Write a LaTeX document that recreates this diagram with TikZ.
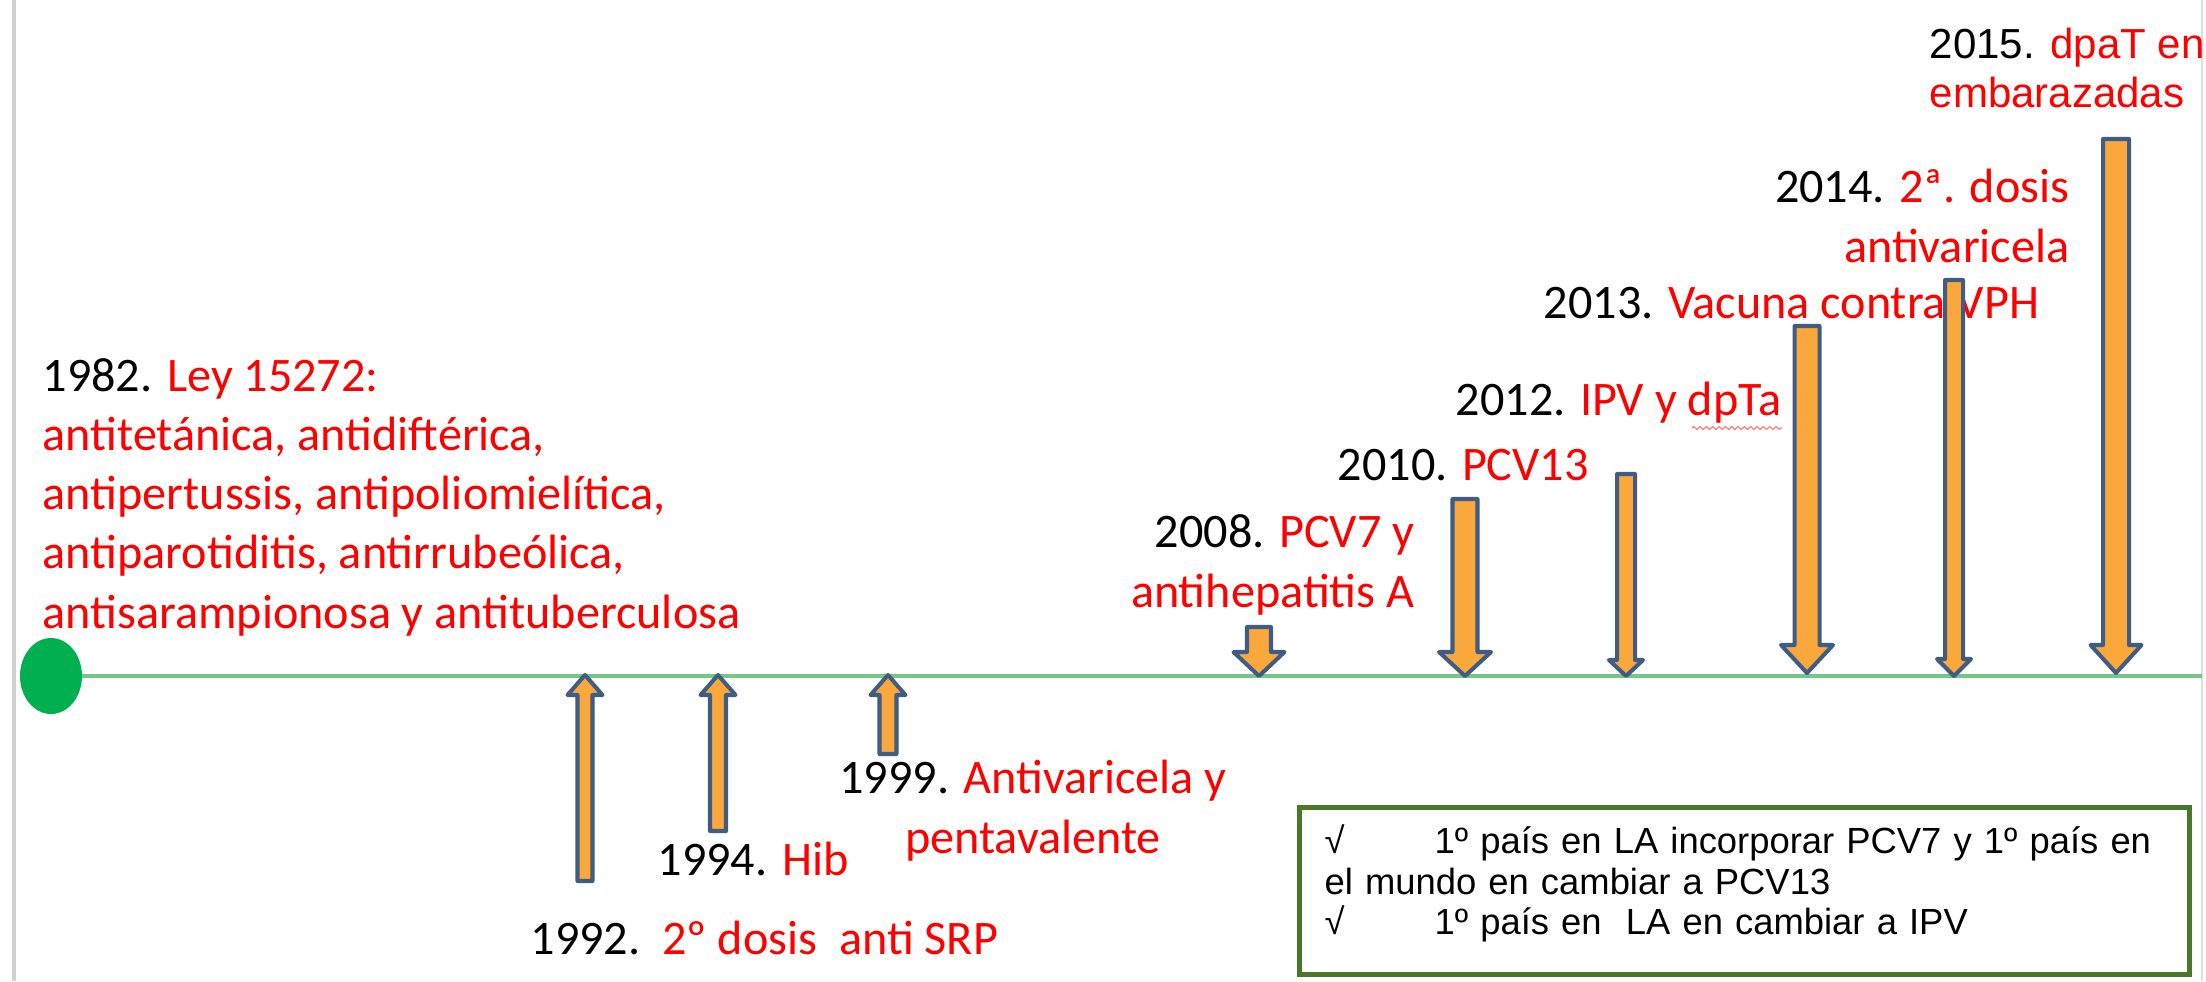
\documentclass[tikz,border=0pt]{standalone}
\usepackage{fontspec}
\setmainfont{Carlito}
\newfontfamily\arialfont{Liberation Sans}
\usepackage{xcolor}
\usepackage{tikz}
\usetikzlibrary{shapes,arrows,decorations.pathmorphing}

\definecolor{naranja}{RGB}{250,168,60}
\definecolor{bordeazul}{RGB}{62,92,132}
\definecolor{lineaverde}{RGB}{115,200,135}
\definecolor{verdepunto}{RGB}{0,176,80}
\definecolor{verdecaja}{RGB}{72,120,40}
\definecolor{grisborde}{RGB}{208,208,208}

\newcommand{\anio}[1]{\textcolor{black}{#1}}
\newcommand{\flecha}[6]{%
\draw[flecha] (#1,#2) -- (#1+#6,#3) -- (#1+#5,#3) -- (#1+#5,#4)
-- (#1-#5,#4) -- (#1-#5,#3) -- (#1-#6,#3) -- cycle;}

\begin{document}
\begin{tikzpicture}[x=0.01cm, y=-0.01cm,
  flecha/.style={fill=naranja, draw=bordeazul, line width=1.15pt, line join=round},
  texto/.style={inner sep=0pt, anchor=base west, align=left, text=red,
    font=\fontsize{13.7}{16.8}\selectfont},
  caja/.style={draw=verdecaja, line width=1.45pt, anchor=north west, inner xsep=0.25cm,
    minimum width=8.89cm, minimum height=1.67cm, text width=8.39cm, align=left,
    font=\arialfont\fontsize{10.35}{11.4}\selectfont},
  ondulado/.style={draw=red!50, line width=0.35pt, decorate,
    decoration={snake, amplitude=0.4pt, segment length=1.8pt}}]
\useasboundingbox (0,0) rectangle (2206,981);
%
\draw[grisborde, line width=1.15pt] (14,0) -- (14,981);
\draw[grisborde!70, line width=0.7pt] (2202,0) -- (2202,981);
\draw[lineaverde, line width=1.15pt] (51,676) -- (2202,676);
\fill[verdepunto] (51,676) ellipse [x radius=31, y radius=38];
%
% multi-line texts: the base anchor is the last line
\node[texto] (t1982) at (42,628) {\anio{1982.} Ley 15272:\\ antitetánica, antidiftérica,\\
antipertussis, antipoliomielítica,\\ antiparotiditis, antirrubeólica,\\
antisarampionosa y antituberculosa};
\node[texto] (t1992) at (530,954) {\anio{1992.}\ \ 2º dosis\ \ anti SRP};
\node[texto] (t1994) at (657,875) {\anio{1994.} Hib};
\node[texto, anchor=base, align=center] (t1999) at (1033,853) {\anio{1999.} Antivaricela y\\ pentavalente};
\node[texto, anchor=base east, align=right] (t2008) at (1415,607) {\anio{2008.} PCV7 y\\ antihepatitis A};
\node[texto] (t2010) at (1337,480) {\anio{2010.} PCV13};
\node[texto] (t2012) at (1455,415) {\anio{2012.} IPV y dpTa};
\node[texto] (t2013) at (1543,318) {\anio{2013.} Vacuna contra VPH};
\node[texto, anchor=base east, align=right] (t2014) at (2070,262) {\anio{2014.} 2ª. dosis\\ antivaricela};
\node[texto, font=\arialfont\fontsize{11.95}{13.9}\selectfont] (t2015) at (1929,107) {\anio{2015.} dpaT en\\ embarazadas};
\draw[ondulado] ([xshift=-0.9cm, yshift=-0.13cm]t2012.base east) -- ([yshift=-0.13cm]t2012.base east);
%
\flecha{585}{675}{695}{881}{7.5}{17.5}
\flecha{718}{675}{695}{831}{8}{17.5}
\flecha{888}{675}{695}{754}{8.5}{17.5}
%
\flecha{1259}{676}{652}{627}{12}{25.5}
\flecha{1465}{676}{652}{499}{12.5}{26}
\flecha{1626}{676}{660}{474}{9}{17}
\flecha{1807}{673}{645}{326}{12.5}{26}
\flecha{1954}{676}{659}{280}{9}{17}
\flecha{2116}{673}{645}{139}{13}{25.5}
%
\node[caja] (caja) at (1297,805) {\makebox[1.1cm][l]{√}1º país en LA incorporar PCV7 y 1º país en\\
el mundo en cambiar a PCV13\\ \makebox[1.1cm][l]{√}1º país en\ \ LA en cambiar a IPV\rule[-0.23cm]{0pt}{0.23cm}};
\end{tikzpicture}
\end{document}
